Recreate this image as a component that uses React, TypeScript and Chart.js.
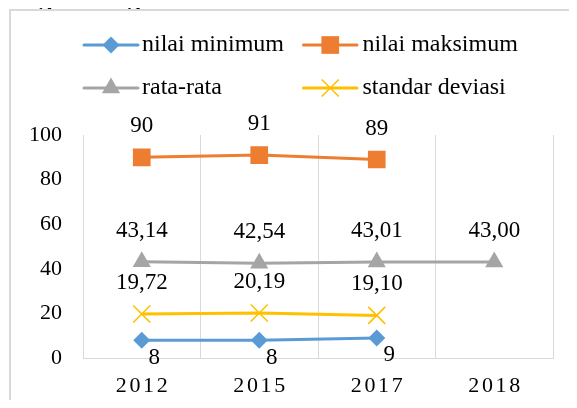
import React, { useEffect, useRef } from 'react';
import { Chart, registerables } from 'chart.js';

Chart.register(...registerables);

// ---- data ----
const categories = ['2012', '2015', '2017', '2018'];
const seriesNames = ['nilai minimum', 'nilai maksimum', 'rata-rata', 'standar deviasi'];
const minValues: (number | null)[] = [8, 8, 9, null];
const maxValues: (number | null)[] = [90, 91, 89, null];
const meanValues: (number | null)[] = [43.14, 42.54, 43.01, 43.0];
const sdValues: (number | null)[] = [19.72, 20.19, 19.1, null];
const labelDecimals = [0, 0, 2, 2];
const yMin = 0;
const yMax = 100;
const yStep = 20;
const headerText = 'negara-negara di dunia.';

const FONT = "'Liberation Serif', 'Times New Roman', serif";
const colors = ['#5B9BD5', '#ED7D31', '#A5A5A5', '#FFC000'];
const pointStyles = ['rectRot', 'rect', 'triangle', 'crossRot'];
const pointRadii = [8.5, 12.5, 10.5, 12];
const pointBorders = [0, 0, 0, 1.6];

const W = 577;
const H = 400;

const fmt = (v: number, d: number) => v.toFixed(d).replace('.', ',');

function drawMarker(ctx: CanvasRenderingContext2D, style: string, r: number, x: number, y: number) {
  ctx.beginPath();
  if (style === 'rectRot') {
    ctx.moveTo(x - r, y);
    ctx.lineTo(x, y - r);
    ctx.lineTo(x + r, y);
    ctx.lineTo(x, y + r);
    ctx.closePath();
    ctx.fill();
  } else if (style === 'rect') {
    const h = r * Math.SQRT1_2;
    ctx.rect(x - h, y - h, 2 * h, 2 * h);
    ctx.fill();
  } else if (style === 'triangle') {
    const a = (2 * Math.PI) / 3;
    ctx.moveTo(x, y - r);
    ctx.lineTo(x + Math.sin(a) * r, y - Math.cos(a) * r);
    ctx.lineTo(x + Math.sin(2 * a) * r, y - Math.cos(2 * a) * r);
    ctx.closePath();
    ctx.fill();
  } else {
    const o = r * Math.SQRT1_2;
    ctx.moveTo(x - o, y - o);
    ctx.lineTo(x + o, y + o);
    ctx.moveTo(x + o, y - o);
    ctx.lineTo(x - o, y + o);
    ctx.stroke();
  }
}

const framePlugin = {
  id: 'frameAndHeader',
  beforeDraw(chart: any) {
    const ctx = chart.ctx as CanvasRenderingContext2D;
    ctx.save();
    ctx.fillStyle = '#fff';
    ctx.fillRect(0, 0, W, H);
    ctx.fillStyle = '#D9D9D9';
    ctx.fillRect(9, 9, 2, H - 9);
    ctx.fillRect(9, 9, W - 9, 2);
    ctx.fillStyle = '#000';
    ctx.font = `bold 27px ${FONT}`;
    ctx.textAlign = 'left';
    ctx.textBaseline = 'alphabetic';
    ctx.beginPath();
    ctx.rect(0, 0, W, 9);
    ctx.clip();
    ctx.fillText(headerText, 11, 6.5);
    ctx.restore();
  },
};

const legendPlugin = {
  id: 'excelLegend',
  afterDraw(chart: any) {
    const ctx = chart.ctx as CanvasRenderingContext2D;
    const slots = [
      { x1: 84, x2: 138, tx: 142, y: 45 },
      { x1: 303.5, x2: 357, tx: 362.5, y: 45 },
      { x1: 84, x2: 138, tx: 142, y: 88 },
      { x1: 303.5, x2: 357, tx: 362.5, y: 88 },
    ];
    chart.data.datasets.forEach((ds: any, i: number) => {
      const s = slots[i];
      ctx.save();
      ctx.strokeStyle = colors[i];
      ctx.fillStyle = colors[i];
      ctx.lineWidth = 3;
      ctx.lineCap = 'round';
      ctx.beginPath();
      ctx.moveTo(s.x1, s.y);
      ctx.lineTo(s.x2, s.y);
      ctx.stroke();
      ctx.lineCap = 'butt';
      ctx.lineWidth = pointBorders[i] || 1;
      drawMarker(ctx, pointStyles[i], pointRadii[i], (s.x1 + s.x2) / 2, s.y);
      ctx.fillStyle = '#000';
      ctx.font = `24px ${FONT}`;
      ctx.textAlign = 'left';
      ctx.textBaseline = 'middle';
      ctx.fillText(ds.label, s.tx, s.y);
      ctx.restore();
    });
  },
};

const xLabelPlugin = {
  id: 'spacedXLabels',
  afterDraw(chart: any) {
    const ctx = chart.ctx;
    const xs = chart.scales.x;
    const spacing = 2.6;
    ctx.save();
    ctx.font = `22px ${FONT}`;
    ctx.fillStyle = '#000';
    ctx.textBaseline = 'alphabetic';
    ctx.textAlign = 'left';
    try { (ctx as any).letterSpacing = `${spacing}px`; } catch (e) { /* ignore */ }
    chart.data.labels.forEach((lab: string, i: number) => {
      const cx = xs.getPixelForTick(i);
      const w = ctx.measureText(lab).width;
      ctx.fillText(lab, cx - (w - spacing) / 2, 392);
    });
    ctx.restore();
  },
};

const dataLabelPlugin = {
  id: 'dataLabels',
  afterDatasetsDraw(chart: any) {
    const ctx = chart.ctx;
    ctx.save();
    ctx.font = `23px ${FONT}`;
    ctx.fillStyle = '#000';
    ctx.textAlign = 'center';
    ctx.textBaseline = 'alphabetic';
    chart.data.datasets.forEach((ds: any, di: number) => {
      const meta = chart.getDatasetMeta(di);
      meta.data.forEach((pt: any, i: number) => {
        const v = ds.data[i];
        if (v === null || v === undefined) return;
        const text = fmt(v, labelDecimals[di]);
        if (di === 0) {
          ctx.fillText(text, pt.x + 12.5, pt.y + 23.5);
        } else {
          ctx.fillText(text, pt.x, pt.y - 25);
        }
      });
    });
    ctx.restore();
  },
};

export default function App() {
  const ref = useRef<HTMLCanvasElement | null>(null);

  useEffect(() => {
    if (!ref.current) return;
    const seriesData = [minValues, maxValues, meanValues, sdValues];
    const chart = new Chart(ref.current, {
      type: 'line',
      data: {
        labels: categories,
        datasets: seriesData.map((d, i) => ({
          label: seriesNames[i],
          data: d,
          borderColor: colors[i],
          backgroundColor: colors[i],
          borderWidth: 3,
          pointStyle: pointStyles[i] as any,
          pointRadius: pointRadii[i],
          pointHoverRadius: pointRadii[i],
          pointBorderWidth: pointBorders[i],
          pointBorderColor: colors[i],
          pointBackgroundColor: colors[i],
          tension: 0,
          spanGaps: false,
          fill: false,
        })),
      },
      options: {
        responsive: false,
        animation: false,
        events: [],
        layout: { padding: { top: 135, right: 24, left: 11, bottom: 0 } },
        plugins: {
          legend: { display: false },
          tooltip: { enabled: false },
          title: { display: false },
        },
        scales: {
          x: {
            type: 'category',
            offset: true,
            grid: { display: true, offset: true, color: '#D9D9D9', lineWidth: 1, drawTicks: false },
            border: { display: true, color: '#D9D9D9', width: 1 },
            ticks: { display: false },
            afterFit: (s: any) => { s.height = 42; },
          },
          y: {
            min: yMin,
            max: yMax,
            grid: { display: false, drawTicks: false },
            border: { display: false },
            ticks: {
              stepSize: yStep,
              padding: 21,
              color: '#000',
              font: { family: FONT, size: 22 },
            },
            afterFit: (s: any) => { s.width = 72; },
          },
        },
      },
      plugins: [framePlugin, legendPlugin, xLabelPlugin, dataLabelPlugin],
    } as any);
    return () => chart.destroy();
  }, []);

  return (
    <div style={{ width: W, height: H, overflow: 'hidden', margin: '-8px 0 0 -8px' }}>
      <canvas ref={ref} width={W} height={H} style={{ display: 'block', width: W, height: H }} />
    </div>
  );
}
